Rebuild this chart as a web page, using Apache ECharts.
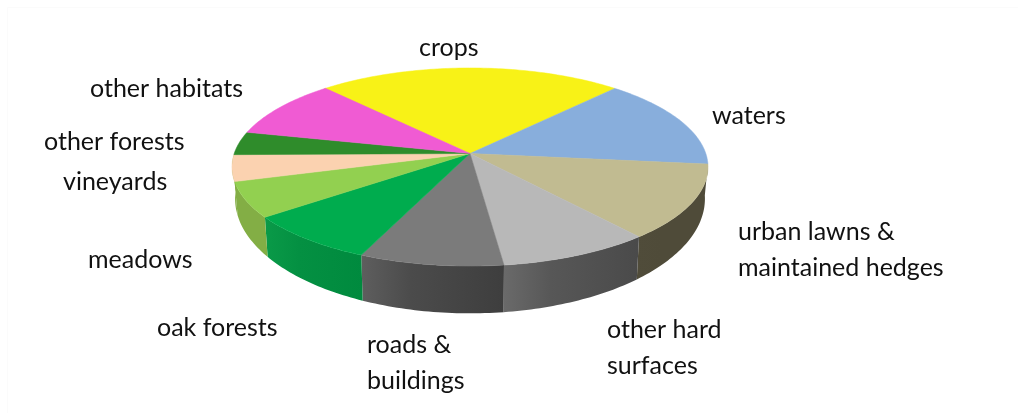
<!DOCTYPE html>
<html>
<head>
<meta charset="utf-8">
<style>
    html, body { margin: 0; padding: 0; background: #fff; }
    #chart { width: 1018px; height: 413px; }
</style>
<script src="https://cdn.jsdelivr.net/npm/echarts@6/dist/echarts.min.js"></script>
</head>
<body>
<div id="chart"></div>
<script>
// shares, percent of the disc, clockwise from crops
const categories = ['crops', 'waters', 'urban lawns &\nmaintained hedges', 'other hard\nsurfaces', 'roads &\nbuildings', 'oak forests', 'meadows', 'vineyards', 'other forests', 'other habitats']
const shares = [23.7, 14.9, 12.2, 9.1, 8.6, 8.1, 5.8, 4.3, 3.8, 9.6]
const topColors = ['#f8f217', '#88aedc', '#c1bb91', '#b8b8b8', '#7b7b7b', '#00ac4e', '#92d050', '#fbd2b0', '#2f8c2b', '#f05bd3']
// rim gradient, left to right as seen on screen
const sideLeft = [null, null, '#504c3a', '#6a6a6a', '#5e5e5e', '#0a9a48', '#83ae45', '#83ae45', null, null]
const sideRight = [null, null, '#4f4b39', '#4a4a4a', '#3e3e3e', '#008a3e', '#83ae45', '#83ae45', null, null]
const labelX = [419, 712, 738, 607, 367, 157, 88, 63, 44, 90]
const labelY = [48, 116, 250, 348, 363, 328, 260, 182, 142, 89]

// disc geometry, the hub sits above the ellipse centre because of the perspective
const hubX = 470
const hubY = 153.5
const radX = 235.8
const radY = 97.2
const persp = 0.1364
const startDeg = -42.8
// lower rim: slightly narrower and more open than the top face
const rimDy = 29.5
const rimSx = 0.987
const rimSy = 1.158

const project = (deg, sx, sy, dy) => {
    const a = deg * Math.PI / 180
    const u = Math.sin(a)
    const v = Math.cos(a)
    const w = 1 + persp * v
    return [hubX + sx * radX * u / w, hubY + dy - sy * radY * v / w]
}

const arc = (from, to, sx, sy, dy) => {
    const pts = []
    const n = Math.max(2, Math.ceil(Math.abs(to - from)))
    for (let i = 0; i <= n; i++) {
        pts.push(project(from + (to - from) * i / n, sx, sy, dy))
    }
    return pts
}

let acc = startDeg
const ranges = shares.map((s) => {
    const from = acc
    acc += s * 3.6
    return [from, acc]
})

const chart = echarts.init(document.getElementById('chart'))

const frame = {
    type: 'rect',
    shape: { x: 7.5, y: 7.5, width: 1100, height: 500 },
    style: { fill: 'none', stroke: '#fbfbfb', lineWidth: 1 },
    z: 0,
}

chart.setOption({
    animation: false,
    backgroundColor: '#fff',
    series: [
        {
            type: 'custom',
            coordinateSystem: 'none',
            silent: true,
            z: 1,
            data: ranges,
            renderItem: (params, api) => {
                const i = params.dataIndex
                if (!sideLeft[i]) return null
                const from = api.value(0)
                const to = api.value(1)
                const points = arc(from, to, 1, 1, 0).concat(arc(to, from, rimSx, rimSy, rimDy))
                return {
                    type: 'polygon',
                    shape: { points },
                    style: {
                        fill: new echarts.graphic.LinearGradient(0, 0, 1, 0, [
                            { offset: 0, color: sideLeft[i] },
                            { offset: 0.35, color: echarts.color.lerp(0.6, [sideLeft[i], sideRight[i]]) },
                            { offset: 1, color: sideRight[i] },
                        ]),
                    },
                }
            },
        },
        {
            type: 'custom',
            coordinateSystem: 'none',
            silent: true,
            z: 2,
            data: ranges,
            renderItem: (params, api) => {
                const i = params.dataIndex
                const points = [[hubX, hubY]].concat(arc(api.value(0), api.value(1), 1, 1, 0))
                return {
                    type: 'polygon',
                    shape: { points },
                    style: { fill: topColors[i], stroke: topColors[i], lineWidth: 0.5 },
                }
            },
        },
    ],
    graphic: [frame].concat(categories.map((name, i) => ({
        type: 'text',
        x: labelX[i],
        y: labelY[i],
        z: 10,
        style: {
            text: name,
            fill: '#111',
            font: '25px Lato, sans-serif',
            lineHeight: 36,
            verticalAlign: 'middle',
            align: 'left',
        },
    }))),
})
</script>
</body>
</html>
